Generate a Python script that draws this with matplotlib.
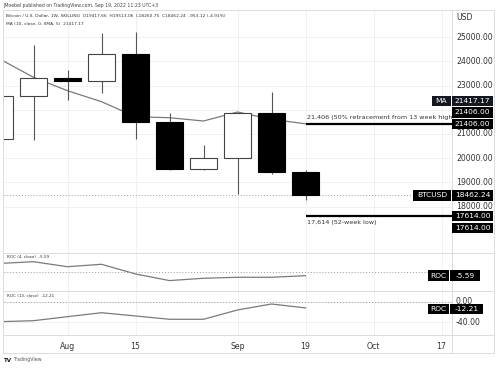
import matplotlib
matplotlib.use('Agg')
import matplotlib.pyplot as plt
import matplotlib.dates as mdates
import matplotlib.transforms as mtransforms
from matplotlib.patches import Rectangle
from matplotlib.lines import Line2D

# dados semanais (BTCUSD, 1W)
semanas = ['2022-07-18', '2022-07-25', '2022-08-01', '2022-08-08', '2022-08-15',
           '2022-08-22', '2022-08-29', '2022-09-05', '2022-09-12', '2022-09-19']
abertura = [20790, 22570, 23297, 23175, 24305, 21505, 19540, 19990, 21850, 19417.66]
maxima = [22800, 24670, 23640, 25150, 25220, 21860, 20540, 21860, 22740, 19513.06]
minima = [20700, 20750, 22400, 22690, 20790, 19520, 19520, 18520, 19340, 18260.75]
fechamento = [22570, 23297, 23175, 24305, 21505, 19540, 19990, 21850, 19417.66, 18462.24]
media_movel = [24100, 23339, 22785, 22331, 21711, 21669, 21533, 21905, 21603, 21417.17]
roc4 = [13, 15.6, 8, 11.7, -3, -13, -9.5, -8, -8, -5.59]
roc13 = [-39.4, -37.4, -29.5, -21.7, -28.1, -34.6, -34.6, -16.3, -4.5, -12.21]

ticks_datas = ['2022-08-01', '2022-08-15', '2022-09-05', '2022-09-19', '2022-10-03', '2022-10-17']
ticks_rotulos = ['Aug', '15', 'Sep', '19', 'Oct', '17']
precos_grade = [25000, 24000, 23000, 22000, 21000, 20000, 19000, 18000]
precos_rotulos = [25000, 24000, 23000, 21000, 20000, 19000, 18000]  # 22000 fica atrás das etiquetas
roc13_eixo = [0, -40]

retracao = 21406
minimo_52 = 17614

W, H = 499, 368
fig = plt.figure(figsize=(W / 100, H / 100), dpi=100)
fig.patch.set_facecolor('white')


def ret(x0, y0, x1, y1):
    return [x0 / W, 1 - y1 / H, (x1 - x0) / W, (y1 - y0) / H]


def fx(px):
    return px / W


def fy(py):
    return 1 - py / H


datas = mdates.datestr2num(semanas)
t_ticks = mdates.datestr2num(ticks_datas)
px_dia = 34 / 7
x_ini = datas[0] + 4.5 / px_dia
x_fim = datas[0] + 452.5 / px_dia
larg = 27 / px_dia

cinza_linha = '#7a7a7a'
cinza_grade = '#f1f1f1'
separador = '#dcdcdc'

ax = fig.add_axes(ret(4, 10, 452, 253))
ax2 = fig.add_axes(ret(4, 253, 452, 291))
ax3 = fig.add_axes(ret(4, 291, 452, 335))

for a in (ax, ax2, ax3):
    a.set_xlim(x_ini, x_fim)
    for s in a.spines.values():
        s.set_visible(False)
    a.tick_params(length=0, labelleft=False, labelbottom=False)
    a.set_yticks([])
    for t in t_ticks:
        a.axvline(t, color=cinza_grade, lw=0.7, zorder=0)

ax.set_ylim(16079, 26120)
ax2.set_ylim(-28.8, 28.8)
ax3.set_ylim(-65.6, 21.1)

# grade horizontal e rótulos do eixo de preços
for p in precos_grade:
    ax.axhline(p, color=cinza_grade, lw=0.7, zorder=0)
for p in precos_rotulos:
    ax.text((456 - 4) / 448, p, f'{p:.2f}', transform=mtransforms.blended_transform_factory(ax.transAxes, ax.transData),
            fontsize=5.6, color='#333333', va='center', ha='left', clip_on=False)
for v in roc13_eixo:
    ax3.axhline(v, color=cinza_grade, lw=0.7, zorder=0)
    ax3.text((456 - 4) / 448, v, f'{v:.2f}', transform=mtransforms.blended_transform_factory(ax3.transAxes, ax3.transData),
             fontsize=5.6, color='#333333', va='center', ha='left', clip_on=False)

# média móvel
ax.plot(datas, media_movel, color=cinza_linha, lw=0.9, zorder=1)

# velas
for d, o, h, l, c in zip(datas, abertura, maxima, minima, fechamento):
    ax.vlines(d, l, h, color='#555555', lw=0.8, zorder=2)
    alta = c >= o
    ax.add_patch(Rectangle((d - larg / 2, min(o, c)), larg, abs(c - o),
                           facecolor='white' if alta else 'black',
                           edgecolor='#444444' if alta else 'black', lw=0.8, zorder=3))

# linha do preço atual
ax.axhline(fechamento[-1], color='#999999', lw=0.7, ls=(0, (1, 2)), zorder=1)

# linhas desenhadas
ax.hlines(retracao, datas[-1], x_fim, color='black', lw=1.6, zorder=4)
ax.hlines(minimo_52, datas[-1], x_fim, color='black', lw=1.6, zorder=4)
ax.text(datas[-1] + 0.4, retracao + 180, '21,406 (50% retracement from 13 week high/low)',
        fontsize=4.6, color='#333333', va='bottom', ha='left', clip_on=True, zorder=4)
ax.text(datas[-1] + 0.4, minimo_52 - 180, '17,614 (52-week low)',
        fontsize=4.6, color='#333333', va='top', ha='left', clip_on=True, zorder=4)

# painéis ROC
ax2.plot(datas, roc4, color=cinza_linha, lw=0.9)
ax2.axhline(0, color='#999999', lw=0.7, ls=(0, (1, 2)))
ax3.plot(datas, roc13, color=cinza_linha, lw=0.9)
ax3.axhline(0, color='#999999', lw=0.7, ls=(0, (1, 2)))

ax3.set_xticks(t_ticks)
ax3.set_xticklabels(ticks_rotulos)
ax3.tick_params(labelbottom=True, pad=5, labelsize=5.6, labelcolor='#333333')

# separadores e moldura
for y in (10, 253, 291, 335, 353):
    fig.add_artist(Line2D([fx(3), fx(494)], [fy(y), fy(y)], color=separador, lw=0.7))
for x in (3, 452, 494):
    fig.add_artist(Line2D([fx(x), fx(x)], [fy(10), fy(353)], color=separador, lw=0.7))


def py_de(a, v):
    return H - a.transData.transform((x_ini, v))[1]


def etiqueta(x0, x1, yc, texto, cor='black', h=10.5, fs=5.4):
    fig.add_artist(Rectangle((fx(x0), fy(yc + h / 2)), (x1 - x0) / W, h / H,
                             transform=fig.transFigure, facecolor=cor, edgecolor='none', zorder=20))
    fig.text(fx((x0 + x1) / 2), fy(yc), texto, color='white', fontsize=fs,
             ha='center', va='center', zorder=21)


y_ret = py_de(ax, retracao)
etiqueta(452, 493, y_ret, f'{retracao:.2f}')
etiqueta(452, 493, y_ret - 11.7, f'{retracao:.2f}')
etiqueta(432, 451, y_ret - 23, 'MA', cor='#131722')
etiqueta(452, 493, y_ret - 23, f'{media_movel[-1]:.2f}', cor='#131722')

y_btc = py_de(ax, fechamento[-1])
etiqueta(413, 451, y_btc, 'BTCUSD')
etiqueta(452, 493, y_btc, f'{fechamento[-1]:.2f}')

y_min = py_de(ax, minimo_52)
etiqueta(452, 493, y_min, f'{minimo_52:.2f}')
etiqueta(452, 493, y_min + 12, f'{minimo_52:.2f}')

y_r4 = py_de(ax2, roc4[-1])
etiqueta(428, 449, y_r4, 'ROC')
etiqueta(450, 480, y_r4, f'{roc4[-1]:.2f}')
y_r13 = py_de(ax3, roc13[-1])
etiqueta(428, 449, y_r13 + 1, 'ROC')
etiqueta(450, 483, y_r13 + 1, f'{roc13[-1]:.2f}')

# textos
fig.text(fx(3), fy(6), 'JMoebel published on TradingView.com, Sep 19, 2022 11:23 UTC+3',
         fontsize=3.3, color='#444444', va='center')
fig.text(fx(6), fy(16), 'Bitcoin / U.S. Dollar, 1W, SKILLING  O19417.66  H19513.06  L18260.75  C18462.24  -953.12 (-4.91%)',
         fontsize=3.2, color='#333333', va='center')
fig.text(fx(6), fy(24), f'MA (10, close, 0, SMA, 5)  {media_movel[-1]:.2f}',
         fontsize=3.2, color='#333333', va='center')
fig.text(fx(7), fy(257), f'ROC (4, close)  {roc4[-1]:.2f}', fontsize=3.0, color='#333333', va='center')
fig.text(fx(7), fy(296), f'ROC (13, close)  {roc13[-1]:.2f}', fontsize=3.0, color='#333333', va='center')
fig.text(fx(456), fy(18), 'USD', fontsize=5.6, color='#333333', va='center')
fig.text(fx(4), fy(360), 'TV', fontsize=4, color='#131722', weight='bold', va='center')
fig.text(fx(14), fy(360), 'TradingView', fontsize=3.4, color='#555555', va='center')

fig.savefig('out.png', dpi=100)
